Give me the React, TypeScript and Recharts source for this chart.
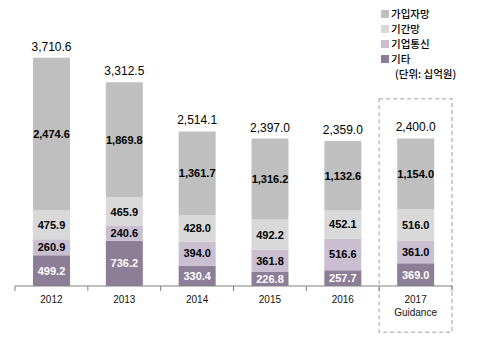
import { BarChart, Bar, XAxis, YAxis, LabelList, ReferenceArea } from 'recharts'

const years = ['2012', '2013', '2014', '2015', '2016', '2017\nGuidance']
const etc = [499.2, 736.2, 330.4, 226.8, 257.7, 369.0]
const enterprise = [260.9, 240.6, 394.0, 361.8, 516.6, 361.0]
const backbone = [475.9, 465.9, 428.0, 492.2, 452.1, 516.0]
const access = [2474.6, 1869.8, 1361.7, 1316.2, 1132.6, 1154.0]
const totals = [3710.6, 3312.5, 2514.1, 2397.0, 2359.0, 2400.0]

const colors = {
  access: '#BFBFBF',
  backbone: '#D9D9D9',
  enterprise: '#C9BFD1',
  etc: '#8C7E97',
}

const legendItems = [
  { name: '가입자망', color: colors.access },
  { name: '기간망', color: colors.backbone },
  { name: '기업통신', color: colors.enterprise },
  { name: '기타', color: colors.etc },
]

const chartData = years.map((year, i) => ({
  year,
  etc: etc[i],
  enterprise: enterprise[i],
  backbone: backbone[i],
  access: access[i],
  total: totals[i],
}))

const fmt = (v: any) =>
  Number(v).toLocaleString('en-US', { minimumFractionDigits: 1, maximumFractionDigits: 1 })

const numFont = '"Liberation Sans", Arial, sans-serif'
const krFont = '"Noto Sans CJK KR", sans-serif'

function CategoryTick(props: any) {
  const { x, y, payload, index } = props
  const half = payload?.offset || 36.4
  const lines = String(payload.value).split('\n')
  return (
    <g>
      <line x1={x - half} y1={y - 5} x2={x - half} y2={y} stroke="#808080" />
      {index === years.length - 1 && (
        <line x1={x + half} y1={y - 5} x2={x + half} y2={y} stroke="#808080" />
      )}
      <text x={x} y={y} textAnchor="middle" fontSize={10} fill="#111" fontFamily={numFont}>
        {lines.map((line, i) => (
          <tspan key={i} x={x} dy={i === 0 ? 11.5 : 13}>
            {line}
          </tspan>
        ))}
      </text>
    </g>
  )
}

export default function App() {
  const labelStyle = { fontSize: 11, fontWeight: 700, fontFamily: numFont }
  return (
    <div style={{ position: 'absolute', left: 0, top: 0, width: 485, height: 352, background: '#fff' }}>
      <BarChart
        width={485}
        height={352}
        data={chartData}
        margin={{ top: 40, right: 33, left: 15, bottom: 36 }}
      >
        <XAxis
          dataKey="year"
          interval={0}
          height={30}
          stroke="#808080"
          tickLine={false}
          tickSize={5}
          tickMargin={0}
          tick={<CategoryTick />}
        />
        <YAxis hide domain={[0, 4000]} />
        <ReferenceArea
          x1={years[5]}
          x2={years[5]}
          y1={-750}
          y2={3045}
          ifOverflow="visible"
          fill="none"
          stroke="#BFBFBF"
          strokeWidth={1.5}
          strokeDasharray="4 3"
        />
        <Bar dataKey="etc" stackId="a" fill={colors.etc} barSize={37} isAnimationActive={false}>
          <LabelList dataKey="etc" position="center" formatter={fmt} fill="#fff" style={labelStyle} />
        </Bar>
        <Bar dataKey="enterprise" stackId="a" fill={colors.enterprise} barSize={37} isAnimationActive={false}>
          <LabelList dataKey="enterprise" position="center" formatter={fmt} fill="#000" style={labelStyle} />
        </Bar>
        <Bar dataKey="backbone" stackId="a" fill={colors.backbone} barSize={37} isAnimationActive={false}>
          <LabelList dataKey="backbone" position="center" formatter={fmt} fill="#000" style={labelStyle} />
        </Bar>
        <Bar dataKey="access" stackId="a" fill={colors.access} barSize={37} isAnimationActive={false}>
          <LabelList dataKey="access" position="center" formatter={fmt} fill="#000" style={labelStyle} />
          <LabelList
            dataKey="total"
            position="top"
            offset={7}
            formatter={fmt}
            fill="#000"
            style={{ fontSize: 12, fontFamily: numFont }}
          />
        </Bar>
      </BarChart>
      <div
        style={{
          position: 'absolute',
          left: 381,
          top: 6,
          fontFamily: krFont,
          fontSize: 10.5,
          fontWeight: 500,
          color: '#000',
          lineHeight: '15px',
        }}
      >
        {legendItems.map((item) => (
          <div key={item.name} style={{ display: 'flex', alignItems: 'center', height: 15 }}>
            <span style={{ width: 8, height: 8, background: item.color, marginRight: 2, display: 'inline-block' }} />
            <span style={{ lineHeight: '15px' }}>{item.name}</span>
          </div>
        ))}
        <div style={{ height: 15, paddingLeft: 14 }}>(단위: 십억원)</div>
      </div>
    </div>
  )
}
